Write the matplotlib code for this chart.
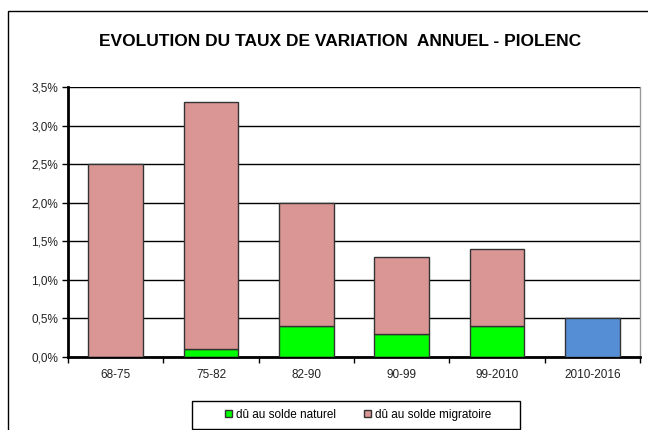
import numpy as np
import matplotlib.pyplot as plt
from matplotlib.patches import Rectangle
from matplotlib.ticker import FuncFormatter

plt.rcParams['font.family'] = ['Liberation Sans', 'DejaVu Sans']

periodes = ['68-75', '75-82', '82-90', '90-99', '99-2010', '2010-2016']
# valeurs en %
solde_naturel = [0.0, 0.1, 0.4, 0.3, 0.4, 0.0]
solde_migratoire = [2.5, 3.2, 1.6, 1.0, 1.0, 0.0]
# 2010-2016 : seulement le taux global
taux_global = [0.0, 0.0, 0.0, 0.0, 0.0, 0.5]

x = np.arange(len(periodes))
w = 0.57
W, H = 648, 430

fig = plt.figure(figsize=(6.48, 4.30), dpi=100)
# cadre exterieur (coupe a droite et en bas)
fig.patches.append(Rectangle((8/W, -0.1), 2.0, (H-11)/H + 0.1, transform=fig.transFigure,
                             fill=False, edgecolor='black', linewidth=1.0))

ax = fig.add_axes([68/W, (H-357)/H, 572/W, 270/H])

ax.bar(x, solde_naturel, w, color='#00FF00', edgecolor='#333333', linewidth=1.0,
       label='dû au solde naturel', zorder=3)
ax.bar(x, solde_migratoire, w, bottom=solde_naturel, color='#D99694', edgecolor='#333333',
       linewidth=1.0, label='dû au solde migratoire', zorder=3)
ax.bar(x, taux_global, w, color='#558ED5', edgecolor='#333333', linewidth=1.0, zorder=3)

ax.set_xlim(-0.5, len(periodes) - 0.5)
ax.set_ylim(0, 3.5)
ax.set_yticks(np.arange(0, 3.51, 0.5))
ax.yaxis.set_major_formatter(FuncFormatter(lambda v, p: ('%.1f%%' % v).replace('.', ',')))
ax.grid(axis='y', color='black', linewidth=1.0, zorder=0)
ax.set_axisbelow(True)

ax.set_xticks(x)
ax.set_xticklabels(periodes)
ax.set_xticks(np.arange(-0.5, len(periodes), 1), minor=True)
ax.tick_params(axis='x', which='major', length=0, pad=9, labelsize=8.5, labelcolor='#222222')
ax.tick_params(axis='x', which='minor', length=4, width=1, direction='out')
ax.tick_params(axis='y', length=4, width=1, direction='out', labelsize=8.5, pad=3,
               labelcolor='#222222')

ax.spines['left'].set_linewidth(2)
ax.spines['bottom'].set_linewidth(2)
ax.spines['top'].set_visible(False)
ax.spines['right'].set_color('#999999')
ax.spines['right'].set_linewidth(1)

fig.text(340/W, (H-42)/H, 'EVOLUTION DU TAUX DE VARIATION  ANNUEL - PIOLENC',
         ha='center', va='center', fontsize=12.5, fontweight='bold')

# legende : cadre dessine a part
fig.patches.append(Rectangle((192/W, (H-429)/H), 328/W, 28/H, transform=fig.transFigure,
                             fill=False, edgecolor='black', linewidth=1.0))
leg = fig.legend(loc='center', bbox_to_anchor=(358/W, (H-415)/H), ncol=2,
                 fontsize=8.5, frameon=False,
                 handlelength=0.55, handleheight=0.55, handletextpad=0.35, columnspacing=2.4,
                 borderpad=0.0)

plt.savefig('out.png', dpi=100)
